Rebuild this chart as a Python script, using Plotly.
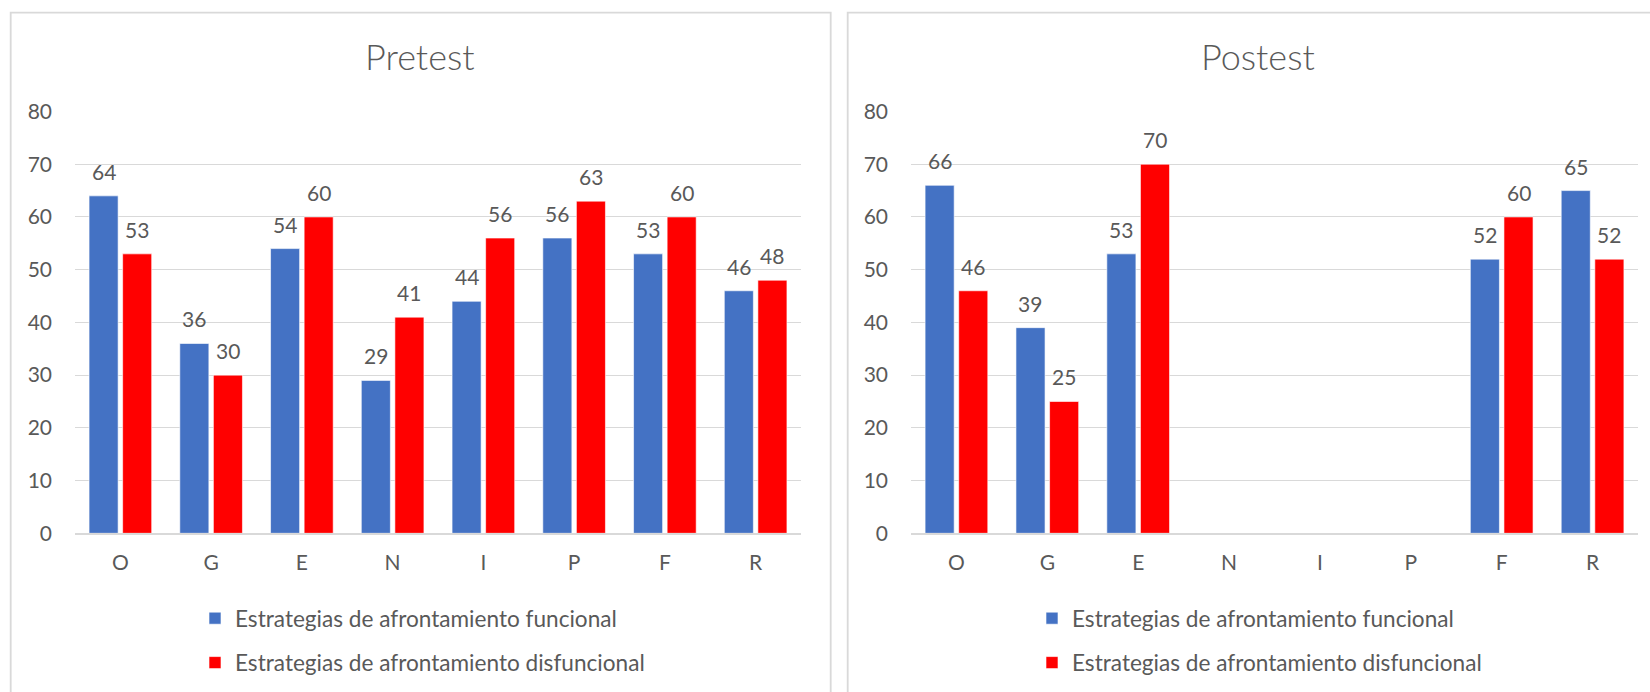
import plotly.graph_objects as go

# ---------------- data ----------------
categories = ["O", "G", "E", "N", "I", "P", "F", "R"]
series_names = ["Estrategias de afrontamiento funcional",
                "Estrategias de afrontamiento disfuncional"]
pretest_funcional = [64, 36, 54, 29, 44, 56, 53, 46]
pretest_disfuncional = [53, 30, 60, 41, 56, 63, 60, 48]
postest_funcional = [66, 39, 53, None, None, None, 52, 65]
postest_disfuncional = [46, 25, 70, None, None, None, 60, 52]
panel_titles = ["Pretest", "Postest"]
y_ticks = [0, 10, 20, 30, 40, 50, 60, 70, 80]

# ---------------- style ----------------
W, H = 1650, 692
BLUE = "#4472C4"
RED = "#FF0000"
TXT = "#595959"
GRID = "#D9D9D9"
FONT = "Lato, 'Open Sans', sans-serif"
BARGAP = 0.26
BARGROUPGAP = 0.135

def px_x(v):
    return v / W

def px_y(v):
    return 1 - v / H

x1_dom = [px_x(75), px_x(801)]
x2_dom = [px_x(911), px_x(1638)]
y_dom = [px_y(533.3), px_y(111.5)]

fig = go.Figure()

panels = [
    ("x", "y", pretest_funcional, pretest_disfuncional, "legend"),
    ("x2", "y2", postest_funcional, postest_disfuncional, "legend2"),
]
colors = [BLUE, RED]

for xa, ya, f_vals, d_vals, leg in panels:
    for i, (name, vals) in enumerate(zip(series_names, [f_vals, d_vals])):
        fig.add_trace(go.Bar(
            x=categories, y=vals, name=name,
            marker=dict(color=colors[i], line=dict(color="white", width=0.6)),
            xaxis=xa, yaxis=ya, legend=leg, legendgroup=f"{leg}_{i}",
            hoverinfo="x+y+name",
        ))

# data labels (annotations placed at bar tops through the axes)
annotations = []
for (xa, ya, f_vals, d_vals, leg), dom in zip(panels, [x1_dom, x2_dom]):
    band_px = (dom[1] - dom[0]) * W / len(categories)
    slot = band_px * (1 - BARGAP) / 2
    for i, vals in enumerate([f_vals, d_vals]):
        shift = (i - 0.5) * slot
        for c, v in zip(categories, vals):
            if v is None:
                continue
            annotations.append(dict(
                x=c, y=v, xref=xa, yref=ya, text=str(v), showarrow=False,
                xanchor="center", yanchor="bottom", xshift=shift, yshift=10,
                font=dict(family=FONT, size=21, color=TXT),
            ))

# panel titles
for title, cx in zip(panel_titles, [420.5, 1258]):
    annotations.append(dict(
        x=px_x(cx), y=px_y(56), xref="paper", yref="paper", text=title,
        showarrow=False, xanchor="center", yanchor="middle",
        font=dict(family=FONT, size=36, color=TXT, weight=300),
    ))

# panel borders
shapes = [
    dict(type="rect", xref="paper", yref="paper",
         x0=px_x(10.7), x1=px_x(830.7), y0=px_y(720), y1=px_y(12.7),
         line=dict(color=GRID, width=1.8), fillcolor="rgba(0,0,0,0)", layer="below"),
    dict(type="rect", xref="paper", yref="paper",
         x0=px_x(847.7), x1=px_x(1700), y0=px_y(720), y1=px_y(12.7),
         line=dict(color=GRID, width=1.8), fillcolor="rgba(0,0,0,0)", layer="below"),
]

axis_x = dict(type="category", showgrid=False, zeroline=False, showline=True,
              linecolor=GRID, linewidth=1.6, ticks="", automargin=False,
              tickfont=dict(family=FONT, size=21, color=TXT),
              ticklabelstandoff=10, fixedrange=True)
axis_y = dict(range=[0, 80], tickvals=y_ticks, showgrid=True, gridcolor=GRID,
              gridwidth=1.4, zeroline=False, showline=False, ticks="",
              automargin=False,
              tickfont=dict(family=FONT, size=21, color=TXT),
              ticklabelstandoff=22, domain=y_dom, fixedrange=True)

legend_common = dict(orientation="v", font=dict(family=FONT, size=22.6, color=TXT),
                     bgcolor="rgba(0,0,0,0)", tracegroupgap=12,
                     xanchor="left", yanchor="top", itemclick=False,
                     itemdoubleclick=False)

fig.update_layout(
    width=W, height=H, autosize=False,
    margin=dict(l=0, r=0, t=0, b=0, pad=0, autoexpand=False),
    paper_bgcolor="white", plot_bgcolor="white",
    barmode="group", bargap=BARGAP, bargroupgap=BARGROUPGAP,
    xaxis=dict(axis_x, domain=x1_dom, anchor="y"),
    yaxis=dict(axis_y, anchor="x"),
    xaxis2=dict(axis_x, domain=x2_dom, anchor="y2"),
    yaxis2=dict(axis_y, anchor="x2"),
    legend=dict(legend_common, x=px_x(195), y=px_y(597)),
    legend2=dict(legend_common, x=px_x(1032), y=px_y(597)),
    annotations=annotations, shapes=shapes,
    showlegend=True,
)

fig.write_html("out.html")
